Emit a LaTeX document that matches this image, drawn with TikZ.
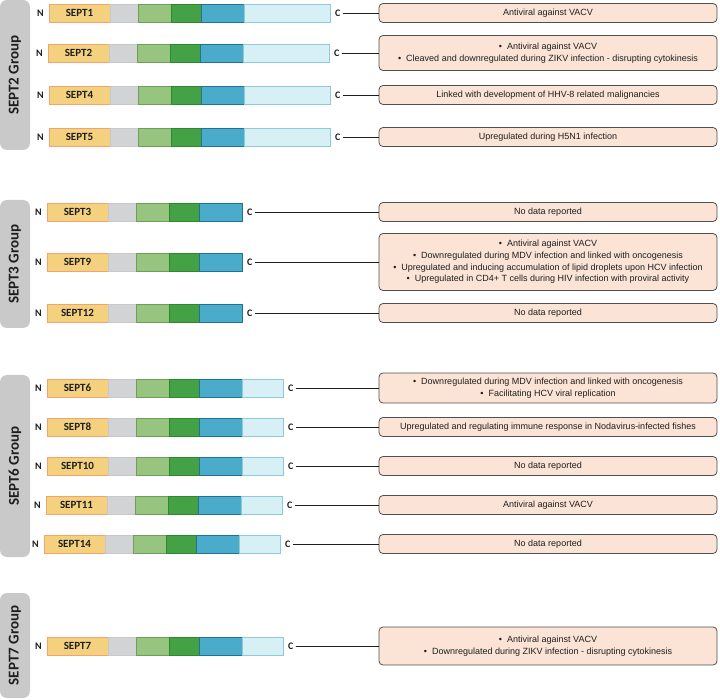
\documentclass[tikz,border=0pt]{standalone}
\usepackage{fontspec}
\setmainfont{Liberation Sans}
\newfontfamily\septfont{Carlito}
\usetikzlibrary{positioning}
\definecolor{septyellow}{HTML}{F3D17F}
\definecolor{septorange}{HTML}{F2A46E}
\definecolor{septgray}{HTML}{D1D3D5}
\definecolor{septgrayline}{HTML}{C6C8CA}
\definecolor{septlgreen}{HTML}{97C47F}
\definecolor{septlgreenline}{HTML}{6E9E5C}
\definecolor{septdgreen}{HTML}{45A146}
\definecolor{septdgreenline}{HTML}{2B8A30}
\definecolor{septblue}{HTML}{4AABCB}
\definecolor{septblueline}{HTML}{1F7393}
\definecolor{septcyan}{HTML}{D7F0F5}
\definecolor{septcyanline}{HTML}{8DCBD7}
\definecolor{notefill}{HTML}{FBE4D6}
\definecolor{noteline}{HTML}{505050}
\definecolor{groupfill}{HTML}{C9C9C9}
\definecolor{septink}{HTML}{1E1E1E}
\tikzset{
  seg/.style={line width=0.9pt,minimum height=18pt,inner sep=0pt,outer sep=0pt},
  segname/.style={seg,draw=septorange,fill=septyellow,minimum width=61pt,
    font=\septfont\bfseries\fontsize{11}{12}\selectfont,text=septink},
  seglinker/.style={seg,draw=septgrayline,fill=septgray,minimum width=28pt},
  seggtpa/.style={seg,draw=septlgreenline,fill=septlgreen,minimum width=33pt},
  seggtpb/.style={seg,draw=septdgreenline,fill=septdgreen,minimum width=30pt},
  segsue/.style={seg,draw=septblueline,fill=septblue,minimum width=43pt},
  segcoil/.style={seg,draw=septcyanline,fill=septcyan},
  endlabel/.style={inner sep=0pt,font=\septfont\bfseries\fontsize{10}{12}\selectfont,text=septink},
  notebox/.style={draw=noteline,fill=notefill,rounded corners=4pt,line width=0.8pt,
    minimum width=338pt,inner sep=0pt,align=center,text=septink,
    font=\fontsize{9}{11.6}\selectfont},
  grouplabel/.style={fill=groupfill,rounded corners=7pt,rotate=90,minimum height=30pt,
    inner sep=0pt,font=\septfont\bfseries\fontsize{15}{16}\selectfont,text=septink},
  notelink/.style={draw=septink,line width=0.8pt},
}
\begin{document}
\begin{tikzpicture}[x=1pt,y=-1pt]
  \path[use as bounding box] (0,0) rectangle (720,700);
  % group labels
  \foreach \g/\top/\bot in {SEPT2/0/150,SEPT3/200/328,SEPT6/375/557,SEPT7/593/698}
    {\node[grouplabel,minimum width={(\bot-\top)*1pt}] (g\g) at (15,{(\top+\bot)/2}) {\g\ Group};}
  % protein bars and notes
  \foreach \n/\y/\x/\cw/\h/\txt in {
    SEPT1/13/49/86/19/{Antiviral against VACV},
    SEPT2/53/48/86/35/{\textbullet\ \ Antiviral against VACV\\\textbullet\ \ Cleaved and downregulated during ZIKV infection - disrupting cytokinesis},
    SEPT4/95/49/86/19/{Linked with development of HHV-8 related malignancies},
    SEPT5/137/49/86/19/{Upregulated during H5N1 infection},
    SEPT3/212/47/0/19/{No data reported},
    SEPT9/262/47/0/57/{\textbullet\ \ Antiviral against VACV\\\textbullet\ \ Downregulated during MDV infection and linked with oncogenesis\\\textbullet\ \ Upregulated and inducing accumulation of lipid droplets upon HCV infection\\\textbullet\ \ Upregulated in CD4+ T cells during HIV infection with proviral activity},
    SEPT12/313/47/0/19/{No data reported},
    SEPT6/388/47/41/30/{\textbullet\ \ Downregulated during MDV infection and linked with oncogenesis\\\textbullet\ \ Facilitating HCV viral replication},
    SEPT8/427/47/41/19/{Upregulated and regulating immune response in Nodavirus-infected fishes},
    SEPT10/466/47/41/19/{No data reported},
    SEPT11/505/46/41/19/{Antiviral against VACV},
    SEPT14/544/44/41/19/{No data reported},
    SEPT7/646/47/41/38/{\textbullet\ \ Antiviral against VACV\\\textbullet\ \ Downregulated during ZIKV infection - disrupting cytokinesis}}
  {
    \node[segname,anchor=west] (s\n) at (\x,\y) {\n};
    \node[seglinker,right=0pt of s\n] (l\n) {};
    \node[seggtpa,right=0pt of l\n] (ga\n) {};
    \node[seggtpb,right=0pt of ga\n] (gb\n) {};
    \node[segsue,right=0pt of gb\n] (u\n) {};
    \ifnum\cw>0
      \node[segcoil,minimum width=\cw pt,right=0pt of u\n] (cc\n) {};
    \else
      \coordinate (cc\n) at (u\n.east);
    \fi
    \node[endlabel,left=5pt of s\n] (nt\n) {N};
    \node[endlabel,right=5pt of cc\n] (ct\n) {C};
    \node[notebox,minimum height=\h pt] (note\n) at (548,\y) {\txt};
    \draw[notelink] ([xshift=2pt]ct\n.east) -- (note\n.west);
  }
\end{tikzpicture}
\end{document}
